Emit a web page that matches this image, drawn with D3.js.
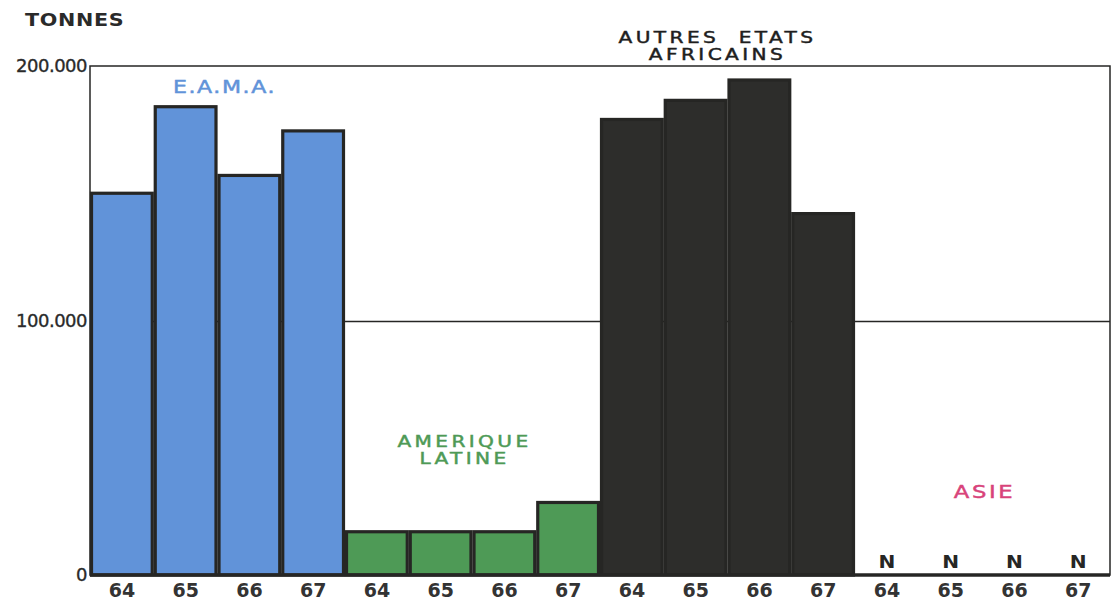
<!DOCTYPE html>
<html><head><meta charset="utf-8">
<script src="https://cdn.jsdelivr.net/npm/d3@7"></script>
<style>
html,body{margin:0;padding:0;background:#fff;}
svg{display:block;}
text{font-family:"DejaVu Sans",sans-serif;}
</style></head>
<body>
<svg id="chart" width="1112" height="604"></svg>
<script>
const groups = ["E.A.M.A.", "AMERIQUE LATINE", "AUTRES ETATS AFRICAINS", "ASIE"];
const years = ["64", "65", "66", "67"];
const eamaValues = [150000, 184000, 157000, 174500];
const ameriqueValues = [17000, 17000, 17000, 28500];
const autresValues = [179000, 186500, 194500, 142000];
const asieValues = [0, 0, 0, 0];
const asieMarks = ["N", "N", "N", "N"];
const yTicks = [0, 100000, 200000];
const yTickLabels = ["0", "100.000", "200.000"];
const groupColors = ["#6193d9", "#4e9a56", "#2d2d2b", "#d8437a"];
const groupTitleLines = [["E.A.M.A."], ["AMERIQUE", "LATINE"], ["AUTRES  ETATS", "AFRICAINS"], ["ASIE"]];

(function () {
const seriesValues = [eamaValues, ameriqueValues, autresValues, asieValues];
const data = [];
groups.forEach((g, gi) => years.forEach((yr, yi) => data.push({key: gi + "-" + yr, group: gi, year: yr, value: seriesValues[gi][yi]})));

const svg = d3.select("#chart");
const mLeft = 90, mRight = 1110, mTop = 66, mBottom = 575;
const x = d3.scaleBand().domain(data.map(d => d.key)).range([mLeft, mRight]).padding(0);
const y = d3.scaleLinear().domain([0, 200000]).range([mBottom, mTop]);
const ink = "#262624";

// frame and gridline
svg.append("rect").attr("x", mLeft).attr("y", mTop).attr("width", mRight - mLeft).attr("height", mBottom - mTop)
  .attr("fill", "none").attr("stroke", ink).attr("stroke-width", 1.5);
svg.append("line").attr("x1", mLeft).attr("x2", mRight).attr("y1", y(100000) + 1).attr("y2", y(100000) + 1)
  .attr("stroke", ink).attr("stroke-width", 1.3);

// bars
svg.append("g").selectAll("rect").data(data.filter(d => d.value > 0)).join("rect")
  .attr("x", d => x(d.key) + 1.5)
  .attr("y", d => y(d.value))
  .attr("width", x.bandwidth() - 3)
  .attr("height", d => mBottom - y(d.value))
  .attr("fill", d => groupColors[d.group])
  .attr("stroke", ink).attr("stroke-width", 3.2);

// N marks for Asie
svg.append("g").selectAll("text").data(data.filter(d => d.group === 3)).join("text")
  .attr("transform", d => `translate(${x(d.key) + x.bandwidth() / 2},${mBottom - 7}) scale(1.15,1)`)
  .attr("text-anchor", "middle")
  .attr("font-size", 17.5).attr("font-weight", "bold").attr("fill", ink)
  .text((d, i) => asieMarks[i]);

// baseline
svg.append("line").attr("x1", mLeft).attr("x2", mRight).attr("y1", mBottom).attr("y2", mBottom)
  .attr("stroke", ink).attr("stroke-width", 3.5);

// x axis
const xAxis = svg.append("g").attr("transform", `translate(0,${mBottom})`)
  .call(d3.axisBottom(x).tickSize(0).tickPadding(9).tickFormat(k => k.split("-")[1]));
xAxis.select(".domain").remove();
xAxis.selectAll("text").attr("font-size", 19).attr("font-weight", "bold").attr("fill", "#333")
  .attr("font-family", "DejaVu Sans, sans-serif");

// y axis
const yAxis = svg.append("g").attr("transform", `translate(${mLeft},0)`)
  .call(d3.axisLeft(y).tickValues(yTicks).tickSize(0).tickPadding(3)
    .tickFormat(v => yTickLabels[yTicks.indexOf(v)]));
yAxis.select(".domain").remove();
yAxis.selectAll("text").attr("font-size", 18).attr("fill", "#2a2a2a")
  .attr("stroke", "#2a2a2a").attr("stroke-width", 0.35)
  .attr("font-family", "DejaVu Sans, sans-serif").attr("letter-spacing", -0.5);

// unit label
svg.append("text").attr("transform", "translate(25,26) scale(1.15,1)").attr("font-size", 18).attr("font-weight", "bold")
  .attr("fill", "#2a2a2a").attr("letter-spacing", 0.6).text("TONNES");

// group titles
const titleY = [[93], [447, 464], [43, 60], [498]];
const titleSize = [17, 15.5, 15.5, 17.5];
const titleSpacing = [1.2, 2.6, 2.6, 2];
const titleShift = [7, -8, -10, 2];
groups.forEach((g, gi) => {
  const cx = (x(gi + "-64") + x(gi + "-67") + x.bandwidth()) / 2 + titleShift[gi];
  const col = gi === 2 ? "#1e1e1e" : groupColors[gi];
  groupTitleLines[gi].forEach((line, li) => {
    svg.append("text")
      .attr("transform", `translate(${cx},${titleY[gi][li]}) scale(1.3,1)`)
      .attr("text-anchor", "middle").attr("font-size", titleSize[gi])
      .attr("letter-spacing", titleSpacing[gi]).style("white-space", "pre")
      .attr("fill", col).attr("stroke", col).attr("stroke-width", 0.45)
      .text(line);
  });
});
})();
</script>
</body></html>
